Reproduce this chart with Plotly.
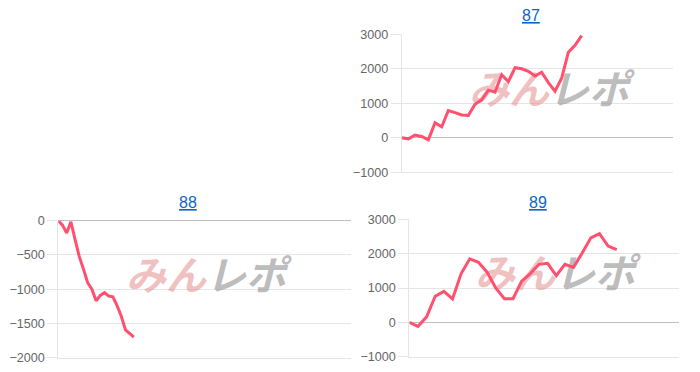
import plotly.graph_objects as go

# ---- data ----
titles = ["87", "88", "89"]
values_87 = [0, -30, 80, 40, -60, 440, 320, 790, 730, 660, 650, 970, 1100, 1380, 1320,
             1830, 1630, 2030, 2000, 1930, 1790, 1900, 1600, 1350, 1730, 2480, 2680, 2960]
values_88 = [0, -65, -180, -15, -275, -525, -710, -905, -1000, -1170, -1090, -1050,
             -1100, -1110, -1240, -1395, -1595, -1655, -1700]
values_89 = [0, -120, 160, 760, 900, 680, 1420, 1850, 1750, 1460, 1000, 690, 690, 1200,
             1420, 1690, 1720, 1360, 1690, 1600, 2020, 2460, 2580, 2220, 2120]
y_ranges = [[-1000, 3000], [-2000, 0], [-1000, 3000]]
y_dticks = [1000, 500, 1000]
x_ranges = [[0, 40.7], [0, 69.7], [0, 31.2]]

W, H = 700, 372
# plot-area pixel boxes (left, right, top, bottom)
boxes = [(401.7, 673, 34.3, 172.3), (58.3, 351, 220.7, 357.7), (409.3, 679, 219.3, 356.7)]
wm_pos = [(549, 94), (206, 280), (555, 278)]

LINE = "rgb(255,80,110)"
GRID = "rgba(0,0,0,0.1)"
ZERO = "rgba(0,0,0,0.25)"

fig = go.Figure()
series = [values_87, values_88, values_89]
layout = dict(width=W, height=H, margin=dict(l=0, r=0, t=0, b=0, pad=0, autoexpand=False),
              template="none",
              paper_bgcolor="white", plot_bgcolor="white", showlegend=False,
              annotations=[])

wm_text = ('<b><i><span style="color:rgba(226,140,140,0.55)">みん</span>'
           '<span style="color:rgba(150,150,150,0.65)">レポ</span></i></b>')

for i, (vals, box) in enumerate(zip(series, boxes)):
    n = "" if i == 0 else str(i + 1)
    xa, ya = "x" + n, "y" + n
    l, r, t, b = box
    xr, yr = x_ranges[i], y_ranges[i]
    # watermark as text trace (drawn under the line)
    wx, wy = wm_pos[i]
    wxd = xr[0] + (wx - l) / (r - l) * (xr[1] - xr[0])
    wyd = yr[1] - (wy - t) / (b - t) * (yr[1] - yr[0])
    fig.add_trace(go.Scatter(x=[wxd], y=[wyd], mode="text", text=[wm_text],
                             textfont=dict(family="Noto Sans CJK JP", size=40),
                             xaxis=xa, yaxis=ya, hoverinfo="skip"))
    fig.add_trace(go.Scatter(x=list(range(len(vals))), y=vals, mode="lines",
                             line=dict(color=LINE, width=3), xaxis=xa, yaxis=ya))
    layout["xaxis" + n] = dict(domain=[l / W, r / W], range=xr, showgrid=False,
                               showticklabels=False, zeroline=False, showline=True,
                               linecolor=GRID, linewidth=1, anchor=ya, fixedrange=True,
                               automargin=False)
    layout["yaxis" + n] = dict(domain=[1 - b / H, 1 - t / H], range=yr, dtick=y_dticks[i],
                               tick0=0, showgrid=True, gridcolor=GRID, gridwidth=1,
                               zeroline=True, zerolinecolor=ZERO, zerolinewidth=1,
                               showline=True, linecolor=GRID, linewidth=1,
                               ticks="outside", ticklen=10, tickcolor=GRID,
                               tickfont=dict(family="Liberation Sans", size=12.6, color="#666"),
                               anchor=xa, fixedrange=True, automargin=False)

title_pos = [(531, 16), (188, 202), (538, 202)]
for txt, (tx, ty) in zip(titles, title_pos):
    layout["annotations"].append(dict(
        text="<u>" + txt + "</u>", x=tx / W, y=1 - ty / H, xref="paper", yref="paper",
        xanchor="center", yanchor="middle", showarrow=False,
        font=dict(family="Liberation Sans", size=16, color="#0b66c8")))

fig.update_layout(**layout)
fig.write_html("out.html")
